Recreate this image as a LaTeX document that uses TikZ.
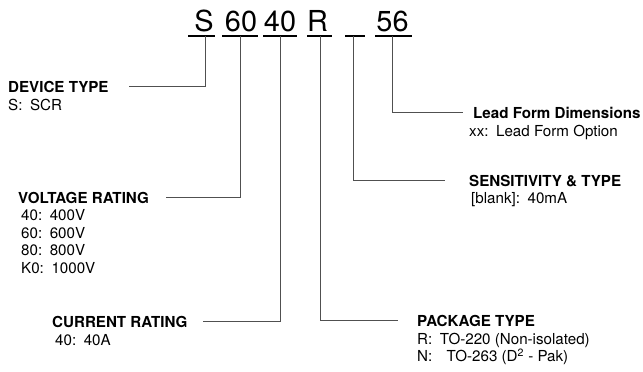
\documentclass[tikz,border=0pt]{standalone}
\usepackage{fontspec}
\setmainfont{TeX Gyre Heros}
\usepackage{tikz}
\definecolor{leadgray}{RGB}{80,80,80}

\begin{document}
\begin{tikzpicture}[x=1bp,y=-1bp,
  code/.style={inner sep=0pt,anchor=base,font=\fontsize{29}{30}\selectfont},
  head/.style={inner sep=0pt,anchor=base west,font=\fontsize{15.2}{17}\selectfont\bfseries},
  item/.style={inner sep=0pt,anchor=base west,font=\fontsize{15.2}{17}\selectfont},
  uline/.style={line width=1.4bp},
  lead/.style={line width=1bp,leadgray}]
\useasboundingbox (0,0) rectangle (643,371);

% Part number
\node[code] (cS) at (204,31) {S};
\node[code] (cV) at (241,31) {60};
\node[code] (cI) at (280,31) {40};
\node[code] (cP) at (317.5,31) {R};
\node[code] (cL) at (392.5,31) {56};

% Underlines
\foreach \a/\b in {188/215,222/258,263/297,307/332,345/365,375/412}
  \draw[uline] (\a,36) -- (\b,36);

% Tap points
\coordinate (tS) at (205,36);
\coordinate (tV) at (240,36);
\coordinate (tI) at (280,36);
\coordinate (tP) at (320,36);
\coordinate (tB) at (353,36);
\coordinate (tL) at (392,36);

% Device type
\node[head] (dev) at (8,92) {DEVICE TYPE};
\node[item] (devS) at (8,110) {S:\hspace{0.5em}SCR};

% Voltage rating
\node[head] (volt) at (18,203) {VOLTAGE RATING};
\node[item] (v40) at (21,220.5) {40:\hspace{0.5em}400V};
\node[item] (v60) at (21,238) {60:\hspace{0.5em}600V};
\node[item] (v80) at (21,255.5) {80:\hspace{0.5em}800V};
\node[item] (vK0) at (21,273) {K0:\hspace{0.5em}1000V};

% Current rating
\node[head] (cur) at (52,327) {CURRENT RATING};
\node[item] (c40) at (55,345) {40:\hspace{0.5em}40A};

% Package type
\node[head] (pkg) at (417,326) {PACKAGE TYPE};
\node[item] (pR) at (417,344) {R:\hspace{0.5em}TO-220 (Non-isolated)};
\node[item] (pN) at (417,361.5) {N:\hspace{0.95em}TO-263 (D\textsuperscript{2} - Pak)};

% Sensitivity & type
\node[head] (sens) at (469,186) {SENSITIVITY \& TYPE};
\node[item] (sBl) at (471,203) {[blank]:\hspace{0.5em}40mA};

% Lead form
\node[head] (lead) at (473,118) {Lead Form Dimensions};
\node[item] (lxx) at (469,136) {xx:\hspace{0.5em}Lead Form Option};

% Connectors
\draw[lead] (tS) |- ([xshift=20]dev.east);
\draw[lead] (tV) |- ([xshift=17]volt.east);
\draw[lead] (tI) |- ([xshift=15]cur.east);
\draw[lead] (tP) |- ([xshift=-19]pkg.west);
\draw[lead] (tB) |- ([xshift=-24]sens.west);
\draw[lead] (tL) |- ([xshift=-10]lead.west);
\end{tikzpicture}
\end{document}
